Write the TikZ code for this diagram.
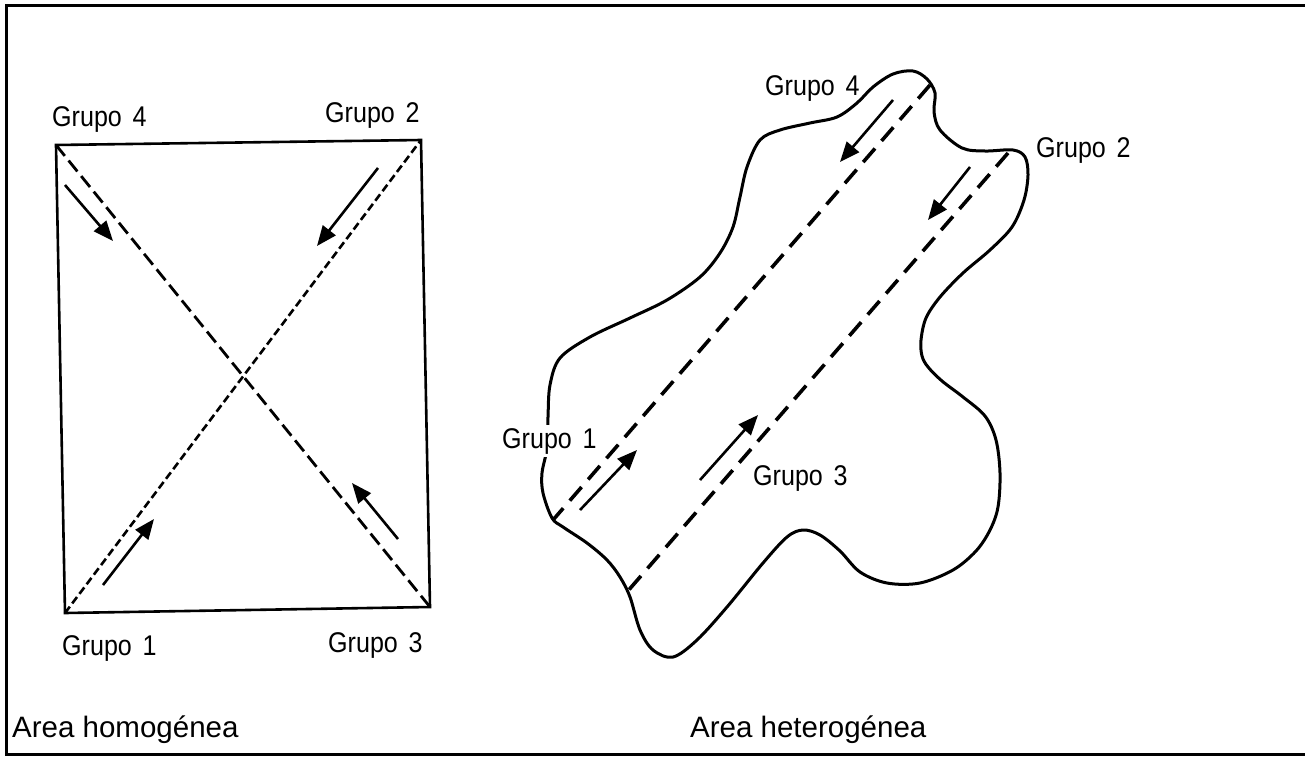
\documentclass[tikz,border=0pt]{standalone}
\usepackage{fontspec}
\setmainfont{Liberation Sans}
\newfontfamily\condfont[FakeStretch=0.88]{Liberation Sans}
\usetikzlibrary{arrows.meta}
\begin{document}
\begin{tikzpicture}[x=1pt,y=-1pt,
  grp/.style={inner sep=0pt,anchor=base west,font=\condfont\fontsize{28.5}{30}\selectfont},
  area/.style={inner sep=0pt,anchor=base west,font=\fontsize{29.5}{32}\selectfont},
  frameline/.style={line width=3pt},
  rectline/.style={line width=2.6pt},
  longdash/.style={line width=2.8pt,dash pattern=on 14pt off 6pt},
  shortdash/.style={line width=2.6pt,dash pattern=on 8pt off 4pt},
  bigdash/.style={line width=3.6pt,dash pattern=on 18pt off 10pt},
  flow/.style={line width=2.6pt,-{Triangle[length=20pt,width=16pt]}},
  blobline/.style={line width=3pt}
]
\useasboundingbox (0,0) rectangle (1305,763);
% outer frame
\coordinate (F1) at (1305,5);
\coordinate (F2) at (6,5);
\coordinate (F3) at (6,754);
\coordinate (F4) at (1305,754);
\draw[frameline] (F1) -- (F2) -- (F3) -- (F4);

% ---------- left: homogeneous area ----------
\coordinate (TL) at (56,145);
\coordinate (TR) at (421,140);
\coordinate (BR) at (430,607);
\coordinate (BL) at (65,613);
\draw[rectline] (TL) -- (TR) -- (BR) -- (BL) -- cycle;
\draw[longdash] (TL) -- (BR);
\draw[shortdash] (BL) -- (TR);

\coordinate (a4s) at (65,185);  \coordinate (a4e) at (113,241);
\coordinate (a2s) at (378,168); \coordinate (a2e) at (317,246);
\coordinate (a1s) at (103,585); \coordinate (a1e) at (154,519);
\coordinate (a3s) at (398,539); \coordinate (a3e) at (352,483);
\draw[flow] (a4s) -- (a4e);
\draw[flow] (a2s) -- (a2e);
\draw[flow] (a1s) -- (a1e);
\draw[flow] (a3s) -- (a3e);

\node[grp] (L4) at (52,126) {Grupo\hspace{0.38em}4};
\node[grp] (L2) at (325,122) {Grupo\hspace{0.38em}2};
\node[grp] (L1) at (62,655) {Grupo\hspace{0.38em}1};
\node[grp] (L3) at (328,652) {Grupo\hspace{0.38em}3};
\node[area] (Lh) at (12,737) {Area homogénea};

% ---------- right: heterogeneous area ----------
\draw[blobline] plot[smooth cycle,tension=0.55] coordinates {
 (913,71) (927,79) (935,93) (934,112) (940,130) (962,148) (985,151)
 (1013,150) (1025,157) (1028,175) (1024,200) (1012,227) (990,250)
 (963,273) (940,297) (926,318) (921,340) (922,356) (928,367) (942,381)
 (963,397) (985,416) (996,440) (1000,473) (998,507) (990,530) (976,551)
 (953,570) (920,583) (887,583) (860,572) (840,551) (820,535) (803,530)
 (787,537) (763,563) (727,607) (697,640) (673,657) (653,650) (640,630)
 (630,597) (620,577) (607,560) (587,543) (563,527) (552,518) (543,493)
 (542,473) (547,448) (548,417) (550,385) (560,358) (590,337) (630,318)
 (667,300) (700,277) (720,253) (733,227) (740,197) (747,167) (760,140)
 (780,130) (810,123) (837,117) (857,103) (873,87) (893,74)};

\coordinate (A1) at (930,85);
\coordinate (A2) at (553,520);
\coordinate (B1) at (1008,153);
\coordinate (B2) at (627,592);
\draw[bigdash] (A1) -- (A2);
\draw[bigdash] (B1) -- (B2);

\coordinate (r4s) at (893,100); \coordinate (r4e) at (840,162);
\coordinate (r2s) at (970,167); \coordinate (r2e) at (928,220);
\coordinate (r1s) at (580,510); \coordinate (r1e) at (637,450);
\coordinate (r3s) at (700,480); \coordinate (r3e) at (758,415);
\draw[flow] (r4s) -- (r4e);
\draw[flow] (r2s) -- (r2e);
\draw[flow] (r1s) -- (r1e);
\draw[flow] (r3s) -- (r3e);

\node[grp] (R4) at (765,95) {Grupo\hspace{0.38em}4};
\node[grp] (R2) at (1036,157) {Grupo\hspace{0.38em}2};
\node[grp,fill=white,inner sep=3pt] (R1) at (499,448) {Grupo\hspace{0.38em}1};
\node[grp] (R3) at (753,485) {Grupo\hspace{0.38em}3};
\node[area] (Rh) at (690,737) {Area heterogénea};
\end{tikzpicture}
\end{document}
